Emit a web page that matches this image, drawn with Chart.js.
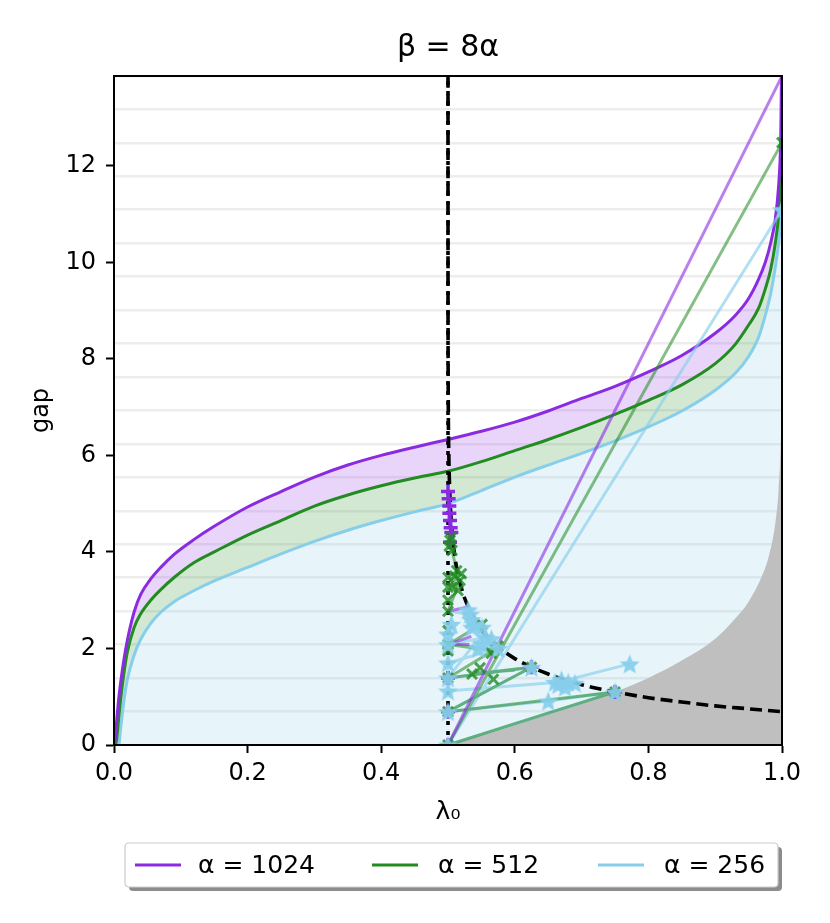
<!DOCTYPE html>
<html>
<head>
<meta charset="utf-8">
<script src="https://cdn.jsdelivr.net/npm/chart.js@4.4.0/dist/chart.umd.min.js"></script>
<style>
html,body{margin:0;padding:0;background:#fff;}
#wrap{width:830px;height:923px;}
</style>
</head>
<body>
<div id="wrap"><canvas id="c" width="830" height="923"></canvas></div>
<script>
// ---------- data ----------
const chartTitle = 'β = 8α';
const xTitle = 'λ₀';
const yTitle = 'gap';
const seriesLabels = ['α = 1024', 'α = 512', 'α = 256'];
const xTicks = [0, 0.2, 0.4, 0.6, 0.8, 1.0];
const yTicks = [0, 2, 4, 6, 8, 10, 12];
const lnGrid = [0.693, 1.386, 2.079, 2.773, 3.466, 4.159, 4.852, 5.545, 6.238, 6.931,
                7.625, 8.318, 9.011, 9.704, 10.397, 11.090, 11.783, 12.477, 13.170, 13.863];

const lambdaGrid = [0, 0.002, 0.004, 0.007, 0.01, 0.015, 0.02, 0.03, 0.04, 0.055, 0.07, 0.09, 0.12, 0.15,
  0.2, 0.25, 0.3, 0.35, 0.4, 0.45, 0.5, 0.55, 0.6, 0.65, 0.7, 0.75, 0.8, 0.85, 0.9, 0.93, 0.95,
  0.965, 0.975, 0.983, 0.99, 0.995, 0.998, 0.9995, 1.0];
const gap1024 = [0, 0.15, 0.5, 0.95, 1.3, 1.78, 2.17, 2.75, 3.12, 3.44, 3.68, 3.95, 4.26, 4.53,
  4.93, 5.25, 5.55, 5.8, 6.0, 6.17, 6.33, 6.5, 6.69, 6.92, 7.18, 7.43, 7.73, 8.07, 8.53, 8.9, 9.25,
  9.65, 10.0, 10.4, 10.9, 11.6, 12.5, 13.86, 13.86];
const gap512 = [0, 0, 0.12, 0.55, 0.95, 1.5, 1.93, 2.43, 2.72, 3.0, 3.22, 3.47, 3.78, 4.0,
  4.35, 4.65, 4.95, 5.18, 5.37, 5.53, 5.67, 5.87, 6.1, 6.33, 6.58, 6.85, 7.14, 7.46, 7.9, 8.3, 8.7,
  9.05, 9.45, 9.85, 10.4, 11.0, 11.8, 12.48, 12.48];
const gap256 = [0, 0, 0, 0, 0.35, 0.93, 1.36, 1.86, 2.19, 2.52, 2.75, 2.97, 3.2, 3.4,
  3.68, 3.96, 4.22, 4.45, 4.65, 4.83, 5.0, 5.27, 5.55, 5.8, 6.04, 6.3, 6.59, 6.92, 7.35, 7.7, 8.05,
  8.45, 8.9, 9.35, 9.9, 10.4, 10.8, 11.09, 11.09];

const grayX = [0.5, 0.55, 0.6, 0.65, 0.7, 0.75, 0.8, 0.85, 0.9, 0.93, 0.95, 0.97, 0.98, 0.99, 0.995, 0.998, 0.999, 1.0];
const grayY = [0, 0.2, 0.41, 0.63, 0.86, 1.1, 1.39, 1.75, 2.2, 2.62, 2.97, 3.5, 3.9, 4.6, 5.3, 6.2, 6.9, 8.6];

const boundX = [0.5000005, 0.500002, 0.50001, 0.5001, 0.5005, 0.501, 0.5025, 0.505, 0.51, 0.52, 0.53,
  0.55, 0.575, 0.6, 0.65, 0.7, 0.75, 0.8, 0.85, 0.9, 0.95, 1.0];
const boundY = [13.86, 12.4, 10.8, 8.5, 6.9, 6.2, 5.3, 4.62, 3.93, 3.26, 2.87,
  2.4, 2.04, 1.79, 1.47, 1.25, 1.1, 0.98, 0.89, 0.81, 0.75, 0.69];

const midX = [0.5, 0.5];
const midY = [0, 13.86];

// optimisation paths (null = break)
const path1024X = [1.0, 0.5, null, 0.5, 0.535, null, 0.5, 0.53, null, 0.5, 0.532];
const path1024Y = [13.86, 0, null, 2.08, 2.25, null, 2.77, 2.86, null, 2.08, 2.08];
const path512X = [1.0, 0.5, null, 0.5, 0.75, null, 0.5, 0.75, null, 0.5, 0.625, null, 0.5, 0.625, null,
  0.5, 0.57, 0.5, null, 0.536, 0.625, null, 0.5, 0.518, 0.5, null, 0.506, 0.513, 0.506, null, 0.5, 0.55,
  null, 0.5, 0.57, null, 0.545, 0.6];
const path512Y = [12.48, 0, null, 0, 1.1, null, 0.69, 1.1, null, 0.69, 1.61, null, 1.39, 1.61, null,
  1.39, 1.98, 2.08, null, 1.47, 1.61, null, 2.77, 3.41, 3.47, null, 4.03, 3.61, 3.27, null, 2.08, 2.5,
  null, 2.08, 1.95, null, 1.5, 1.55];
const path256X = [1.0, 0.5, null, 0.5, 0.75, null, 0.5, 0.65, 0.75, null, 0.5, 0.625, null, 0.5, 0.625, null,
  0.5, 0.665, 0.772, null, 0.5, 0.556, 0.533, 0.5, null, 0.5, 0.551, null, 0.5, 0.57];
const path256Y = [11.09, 0, null, 0, 1.1, null, 0.69, 0.91, 1.1, null, 0.69, 1.61, null, 1.39, 1.61, null,
  1.12, 1.3, 1.68, null, 2.08, 2.23, 2.71, 2.77, null, 1.39, 2.3, null, 1.7, 1.98];

// markers
const mark1024X = [0.5, 0.501, 0.502, 0.502, 0.503, 0.504, 0.505, 0.503, 0.5, 0.5, 0.5, 0.625, 0.75];
const mark1024Y = [5.25, 5.1, 4.95, 4.8, 4.65, 4.5, 4.4, 4.2, 0, 0.69, 1.39, 1.61, 1.1];
const mark512X = [0.5, 0.5, 0.5, 0.5, 0.5, 0.5, 0.5, 0.5, 0.5, 0.5, 0.503, 0.506, 0.505, 0.502, 0.513, 0.518,
  0.506, 0.51, 0.52, 0.515, 0.536, 0.551, 0.57, 0.575, 0.565, 0.568, 0.548, 0.625, 0.75, 1.0];
const mark512Y = [0, 0.69, 1.39, 1.95, 2.08, 2.37, 2.77, 3.0, 3.27, 3.47, 4.24, 4.03, 4.3, 4.12, 3.61, 3.41,
  3.27, 3.5, 3.55, 3.2, 1.47, 2.5, 1.98, 2.05, 1.9, 1.36, 1.6, 1.61, 1.1, 12.48];
const mark256X = [0.5, 0.5, 0.5, 0.5, 0.5, 0.5, 0.5, 0.505, 0.533, 0.535, 0.536, 0.53, 0.54, 0.551, 0.556,
  0.55, 0.545, 0.565, 0.575, 0.625, 0.66, 0.665, 0.67, 0.675, 0.68, 0.65, 0.69, 0.75, 0.772, 1.0];
const mark256Y = [0, 0.69, 1.12, 1.39, 1.7, 2.08, 2.3, 2.5, 2.71, 2.6, 2.44, 2.8, 2.5, 2.44, 2.23,
  2.1, 2.0, 2.2, 2.0, 1.61, 1.3, 1.25, 1.35, 1.2, 1.3, 0.91, 1.28, 1.1, 1.68, 11.09];

// ---------- styles ----------
const PURPLE = '#8a2be2', GREEN = '#228b22', BLUE = '#87ceeb';
const FONT = "'DejaVu Sans', sans-serif";

const xy = (xs, ys) => xs.map((x, i) => ({ x: x === null ? 0.5 : x, y: ys[i] }));

function starImage(size, color) {
  const c = document.createElement('canvas');
  c.width = size; c.height = size;
  const g = c.getContext('2d');
  g.fillStyle = color;
  g.beginPath();
  for (let k = 0; k < 10; k++) {
    const r = (k % 2 === 0) ? size / 2 : size / 2 * 0.45;
    const a = -Math.PI / 2 + k * Math.PI / 5;
    const px = size / 2 + r * Math.cos(a), py = size / 2 + r * Math.sin(a) + size * 0.05;
    if (k === 0) g.moveTo(px, py); else g.lineTo(px, py);
  }
  g.closePath(); g.fill();
  return c;
}
const star = starImage(21, 'rgba(135,206,235,0.92)');

const curve = (label, xs, ys, color, fillTarget, fillColor, order) => ({
  label, data: xy(xs, ys), borderColor: color, borderWidth: 3, pointRadius: 0,
  cubicInterpolationMode: 'monotone', fill: fillTarget, backgroundColor: fillColor, order,
  xAxisID: 'x', yAxisID: 'y'
});
const path = (xs, ys, color, order) => ({
  label: '', data: xy(xs, ys), borderColor: color, borderWidth: 3, pointRadius: 0,
  tension: 0, fill: false, spanGaps: false, order, xAxisID: 'x', yAxisID: 'y'
});
const marks = (xs, ys, style, color, radius, bw, order) => ({
  label: '', data: xy(xs, ys), showLine: false, pointStyle: style, pointRadius: radius,
  pointBorderColor: color, pointBackgroundColor: color, pointBorderWidth: bw, fill: false,
  order, xAxisID: 'x', yAxisID: 'y'
});

const datasets = [
  curve(seriesLabels[0], lambdaGrid, gap1024, PURPLE, '+1', 'rgba(138,43,226,0.2)', 58),
  curve(seriesLabels[1], lambdaGrid, gap512, GREEN, '+1', 'rgba(34,139,34,0.2)', 59),
  curve(seriesLabels[2], lambdaGrid, gap256, BLUE, 'origin', 'rgba(135,206,235,0.2)', 60),
  { label: '', data: xy(grayX, grayY), borderWidth: 0, borderColor: 'rgba(0,0,0,0)', pointRadius: 0,
    cubicInterpolationMode: 'monotone', fill: 'origin', backgroundColor: '#bfbfbf', order: 50,
    xAxisID: 'x', yAxisID: 'y' },
  path(path1024X, path1024Y, 'rgba(138,43,226,0.6)', 40),
  path(path512X, path512Y, 'rgba(34,139,34,0.55)', 41),
  path(path256X, path256Y, 'rgba(135,206,235,0.65)', 42),
  { label: '', data: xy(boundX, boundY), borderColor: '#000', borderWidth: 3.6, borderDash: [12, 6],
    pointRadius: 0, cubicInterpolationMode: 'monotone', fill: false, order: 20, xAxisID: 'x', yAxisID: 'y' },
  { label: '', data: xy(midX, midY), borderColor: '#000', borderWidth: 3.6, borderDash: [4, 6],
    pointRadius: 0, fill: false, order: 21, xAxisID: 'x', yAxisID: 'y' },
  marks(mark1024X, mark1024Y, 'cross', PURPLE, 7, 3.5, 12),
  marks(mark512X, mark512Y, 'crossRot', 'rgba(34,139,34,0.8)', 7, 3, 11),
  marks(mark256X, mark256Y, star, BLUE, 7, 1, 10)
];

// ---------- plugin: frame + legend ----------
const framePlugin = {
  id: 'frameLegend',
  afterDatasetsDraw(chart) {
    const { ctx, chartArea: a } = chart;
    ctx.save();
    ctx.strokeStyle = '#000';
    ctx.lineWidth = 2;
    ctx.strokeRect(a.left, a.top, a.right - a.left, a.bottom - a.top);
    ctx.restore();
  },
  afterDraw(chart) {
    const ctx = chart.ctx;
    const bx = 125, by = 843, bw = 653, bh = 44;
    const rr = (x, y, w, h, r) => {
      ctx.beginPath();
      ctx.moveTo(x + r, y); ctx.lineTo(x + w - r, y); ctx.quadraticCurveTo(x + w, y, x + w, y + r);
      ctx.lineTo(x + w, y + h - r); ctx.quadraticCurveTo(x + w, y + h, x + w - r, y + h);
      ctx.lineTo(x + r, y + h); ctx.quadraticCurveTo(x, y + h, x, y + h - r);
      ctx.lineTo(x, y + r); ctx.quadraticCurveTo(x, y, x + r, y); ctx.closePath();
    };
    ctx.save();
    ctx.fillStyle = 'rgba(0,0,0,0.45)';
    rr(bx + 4, by + 4, bw, bh, 4); ctx.fill();
    ctx.fillStyle = '#fff';
    rr(bx, by, bw, bh, 4); ctx.fill();
    ctx.strokeStyle = '#cccccc'; ctx.lineWidth = 1.2; ctx.stroke();
    const cols = [PURPLE, GREEN, BLUE];
    const lineX = [135, 372, 598];
    const textX = [198, 438, 664];
    const cy = by + bh / 2;
    ctx.font = "25px " + FONT;
    ctx.textBaseline = 'middle';
    ctx.textAlign = 'left';
    for (let i = 0; i < 3; i++) {
      ctx.strokeStyle = cols[i]; ctx.lineWidth = 3;
      ctx.beginPath(); ctx.moveTo(lineX[i], cy); ctx.lineTo(lineX[i] + 46, cy); ctx.stroke();
      ctx.fillStyle = '#000';
      ctx.fillText(chart.data.datasets[i].label, textX[i], cy + 1);
    }
    ctx.restore();
  }
};

const tickFont = { family: FONT, size: 24 };
new Chart(document.getElementById('c'), {
  type: 'line',
  data: { datasets },
  options: {
    responsive: false,
    animation: false,
    events: [],
    layout: { padding: { top: 0, right: 48, bottom: 95, left: 0 } },
    plugins: {
      legend: { display: false },
      tooltip: { enabled: false },
      filler: { drawTime: 'beforeDatasetsDraw' },
      title: { display: true, fullSize: false, text: chartTitle, color: '#000',
        font: { family: FONT, size: 30, weight: 'normal' }, padding: { top: 30, bottom: 10 } }
    },
    scales: {
      x: {
        type: 'linear', min: 0, max: 1, position: 'bottom',
        afterBuildTicks: ax => { ax.ticks = xTicks.map(v => ({ value: v })); },
        ticks: { color: '#000', font: tickFont, padding: 6, maxRotation: 0, autoSkip: false,
          callback: v => Number(v).toFixed(1) },
        grid: { drawOnChartArea: false, drawTicks: true, tickLength: 8, tickColor: '#000', tickWidth: 2 },
        border: { display: true, color: '#000', width: 2 },
        title: { display: true, text: xTitle, color: '#000', font: { family: FONT, size: 25 }, padding: { top: 0, bottom: 1 } },
        afterFit: s => { s.height = 83; }
      },
      y: {
        type: 'linear', min: 0, max: 13.86, position: 'left',
        afterBuildTicks: ax => { ax.ticks = yTicks.map(v => ({ value: v })); },
        ticks: { color: '#000', font: tickFont, padding: 10, callback: v => String(v) },
        grid: { drawOnChartArea: false, drawTicks: true, tickLength: 8, tickColor: '#000', tickWidth: 2 },
        border: { display: true, color: '#000', width: 2 },
        title: { display: true, text: yTitle, color: '#000', font: tickFont, padding: { top: 27, bottom: 0 } },
        afterFit: s => { s.width = 114; }
      },
      yg: {
        type: 'linear', min: 0, max: 13.86, position: 'right', display: true,
        afterBuildTicks: ax => { ax.ticks = lnGrid.map(v => ({ value: v })); },
        ticks: { display: false },
        grid: { color: 'rgba(0,0,0,0.07)', lineWidth: 2.5, drawTicks: false },
        border: { display: false },
        afterFit: s => { s.width = 0; }
      }
    }
  },
  plugins: [framePlugin]
});
</script>
</body>
</html>
